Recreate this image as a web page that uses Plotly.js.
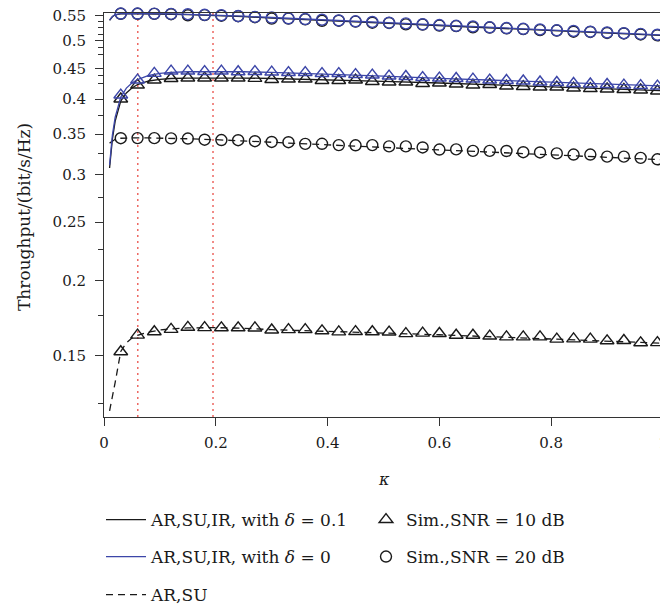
<!DOCTYPE html>
<html>
<head>
<meta charset="utf-8">
<script src="https://cdn.plot.ly/plotly-3.0.1.min.js"></script>
<style>
  html, body { margin: 0; padding: 0; overflow: hidden; background: #fff; }
  #chart { width: 700px; height: 610px; }
</style>
</head>
<body>
<div id="chart"></div>
<script>
// ---------- data ----------
// analytical curves (kappa grid)
const kappaLine = [0.01, 0.015, 0.02, 0.03, 0.04, 0.05, 0.06, 0.08, 0.1, 0.12, 0.15, 0.2, 0.25, 0.3, 0.4, 0.5, 0.6, 0.7, 0.8, 0.9, 1.0];

const irDelta01Snr20 = [0.5405, 0.5478, 0.5520, 0.5540, 0.5543, 0.5543, 0.5542, 0.5540, 0.5536, 0.5532, 0.5522, 0.5505, 0.5480, 0.5452, 0.5400, 0.5347, 0.5296, 0.5245, 0.5195, 0.5146, 0.5098];
const irDelta0Snr20  = [0.5411, 0.5484, 0.5526, 0.5545, 0.5548, 0.5548, 0.5548, 0.5546, 0.5542, 0.5539, 0.5530, 0.5515, 0.5490, 0.5463, 0.5411, 0.5359, 0.5308, 0.5258, 0.5208, 0.5158, 0.5110];
const irDelta01Snr10 = [0.3074, 0.3433, 0.3678, 0.3970, 0.4094, 0.4172, 0.4229, 0.4286, 0.4313, 0.4327, 0.4335, 0.4338, 0.4335, 0.4327, 0.4307, 0.4281, 0.4253, 0.4220, 0.4185, 0.4157, 0.4130];
const irDelta0Snr10  = [0.3109, 0.3486, 0.3734, 0.4031, 0.4172, 0.4253, 0.4310, 0.4377, 0.4413, 0.4430, 0.4440, 0.4444, 0.4440, 0.4430, 0.4402, 0.4368, 0.4330, 0.4297, 0.4264, 0.4233, 0.4204];
const arSuSnr20      = [0.3380, 0.3410, 0.3430, 0.3444, 0.3448, 0.3449, 0.3449, 0.3448, 0.3446, 0.3443, 0.3437, 0.3425, 0.3410, 0.3393, 0.3358, 0.3325, 0.3294, 0.3265, 0.3234, 0.3205, 0.3172];
const arSuSnr10      = [0.1215, 0.1280, 0.1355, 0.1525, 0.1575, 0.1605, 0.1622, 0.1642, 0.1655, 0.1662, 0.1668, 0.1670, 0.1666, 0.1657, 0.1647, 0.1636, 0.1625, 0.1612, 0.1598, 0.1588, 0.1573];

// simulation points
const kappaSim = [0.03, 0.06, 0.09, 0.12, 0.15, 0.18, 0.21, 0.24, 0.27, 0.30, 0.33, 0.36, 0.39, 0.42, 0.45, 0.48, 0.51, 0.54, 0.57, 0.60, 0.63, 0.66, 0.69, 0.72, 0.75, 0.78, 0.81, 0.84, 0.87, 0.90, 0.93, 0.96, 0.99];

const simDelta0Snr20  = [0.5547, 0.5547, 0.5545, 0.5539, 0.5532, 0.5520, 0.5511, 0.5494, 0.5477, 0.5463, 0.5447, 0.5432, 0.5417, 0.5402, 0.5385, 0.5371, 0.5355, 0.5341, 0.5324, 0.5308, 0.5293, 0.5279, 0.5263, 0.5248, 0.5233, 0.5219, 0.5203, 0.5189, 0.5174, 0.5160, 0.5145, 0.5131, 0.5116];
const simDelta01Snr20 = [0.5542, 0.5541, 0.5540, 0.5532, 0.5510, 0.5514, 0.5500, 0.5490, 0.5470, 0.5440, 0.5442, 0.5425, 0.5395, 0.5396, 0.5378, 0.5355, 0.5350, 0.5322, 0.5318, 0.5297, 0.5287, 0.5262, 0.5258, 0.5240, 0.5226, 0.5205, 0.5198, 0.5175, 0.5170, 0.5150, 0.5140, 0.5120, 0.5105];
const simDelta0Snr10  = [0.4062, 0.4302, 0.4413, 0.4452, 0.4452, 0.4444, 0.4452, 0.4440, 0.4444, 0.4435, 0.4427, 0.4427, 0.4410, 0.4410, 0.4393, 0.4385, 0.4368, 0.4360, 0.4343, 0.4335, 0.4327, 0.4318, 0.4302, 0.4294, 0.4286, 0.4270, 0.4262, 0.4245, 0.4237, 0.4229, 0.4220, 0.4212, 0.4204];
const simDelta01Snr10 = [0.4001, 0.4220, 0.4302, 0.4327, 0.4335, 0.4335, 0.4335, 0.4335, 0.4330, 0.4310, 0.4318, 0.4318, 0.4294, 0.4294, 0.4302, 0.4277, 0.4270, 0.4270, 0.4245, 0.4253, 0.4237, 0.4220, 0.4229, 0.4204, 0.4196, 0.4188, 0.4188, 0.4172, 0.4164, 0.4157, 0.4149, 0.4141, 0.4125];
const simArSuSnr20    = [0.3444, 0.3446, 0.3445, 0.3442, 0.3440, 0.3425, 0.3420, 0.3418, 0.3405, 0.3395, 0.3392, 0.3370, 0.3372, 0.3355, 0.3352, 0.3355, 0.3338, 0.3338, 0.3325, 0.3298, 0.3300, 0.3282, 0.3282, 0.3280, 0.3265, 0.3262, 0.3250, 0.3236, 0.3236, 0.3210, 0.3210, 0.3195, 0.3178];
const simArSuSnr10    = [0.1523, 0.1623, 0.1644, 0.1659, 0.1672, 0.1670, 0.1669, 0.1669, 0.1668, 0.1655, 0.1657, 0.1657, 0.1650, 0.1643, 0.1645, 0.1644, 0.1642, 0.1632, 0.1635, 0.1633, 0.1622, 0.1622, 0.1617, 0.1612, 0.1612, 0.1612, 0.1598, 0.1600, 0.1598, 0.1588, 0.1590, 0.1576, 0.1577];

// reference kappa values (red dotted lines)
const refKappa = [0.0605, 0.195];

// axis ticks and titles
const xTickVals = [0, 0.2, 0.4, 0.6, 0.8, 1];
const xTickText = ['0', '0.2', '0.4', '0.6', '0.8', '1'];
const yTickVals = [0.15, 0.2, 0.25, 0.3, 0.35, 0.4, 0.45, 0.5, 0.55];
const yTickText = ['0.15', '0.2', '0.25', '0.3', '0.35', '0.4', '0.45', '0.5', '0.55'];
const yMinorVals = [0.125, 0.175, 0.225, 0.275, 0.325, 0.375, 0.425, 0.4375, 0.475, 0.4875, 0.5125, 0.525, 0.5375];
const xTitle = '<i>κ</i>';
const yTitle = 'Throughput/(bit/s/Hz)';

// ---------- styling ----------
const BLACK = '#1a1a1a';
const BLUE = '#3c46a8';
const FONT = 'DejaVu Serif, Liberation Serif, serif';
const TRI = 12, CIRC = 11;

function lineTrace(y, color, dash, name, legend, show) {
  return { x: kappaLine, y: y, type: 'scatter', mode: 'lines', name: name,
    line: { color: color, width: 1.3, dash: dash }, legend: legend,
    showlegend: show, cliponaxis: false, hoverinfo: 'skip' };
}
function simTrace(y, color, symbol, size, name, legend, show) {
  return { x: kappaSim, y: y, type: 'scatter', mode: 'markers', name: name,
    marker: { symbol: symbol, size: size, color: color, line: { color: color, width: 1.4 } },
    legend: legend, showlegend: show, cliponaxis: false, hoverinfo: 'skip' };
}

const traces = [
  lineTrace(arSuSnr10, BLACK, '7px,5px', 'AR,SU', 'legend3', true),
  lineTrace(arSuSnr20, BLACK, '7px,5px', 'AR,SU', 'legend3', false),
  simTrace(simArSuSnr10, BLACK, 'triangle-up-open', TRI, 'Sim.,SNR = 10 dB', 'legend4', false),
  simTrace(simArSuSnr20, BLACK, 'circle-open', CIRC, 'Sim.,SNR = 20 dB', 'legend5', false),
  lineTrace(irDelta01Snr10, BLACK, 'solid', 'AR,SU,IR, with <i>δ</i> = 0.1', 'legend', true),
  lineTrace(irDelta01Snr20, BLACK, 'solid', 'AR,SU,IR, with <i>δ</i> = 0.1', 'legend', false),
  simTrace(simDelta01Snr10, BLACK, 'triangle-up-open', TRI, 'Sim.,SNR = 10 dB', 'legend4', true),
  simTrace(simDelta01Snr20, BLACK, 'circle-open', CIRC, 'Sim.,SNR = 20 dB', 'legend5', true),
  lineTrace(irDelta0Snr10, BLUE, 'solid', 'AR,SU,IR, with <i>δ</i> = 0', 'legend2', true),
  lineTrace(irDelta0Snr20, BLUE, 'solid', 'AR,SU,IR, with <i>δ</i> = 0', 'legend2', false),
  simTrace(simDelta0Snr10, BLUE, 'triangle-up-open', TRI, 'Sim.,SNR = 10 dB', 'legend4', false),
  simTrace(simDelta0Snr20, BLUE, 'circle-open', CIRC, 'Sim.,SNR = 20 dB', 'legend5', false)
];

const W = 700, H = 610;
const ML = 104, MR = 37, MT = 13, MB = 193;
const PW = W - ML - MR, PH = H - MT - MB;

function legendAt(px, py, itemwidth) {
  return { xref: 'container', yref: 'container', x: px / W, y: 1 - py / H,
    xanchor: 'left', yanchor: 'middle', bgcolor: 'rgba(0,0,0,0)', borderwidth: 0,
    itemwidth: itemwidth,
    font: { family: FONT, size: 17, color: BLACK }, tracegroupgap: 0 };
}

const shapes = refKappa.map(k => ({
  type: 'line', xref: 'x', yref: 'paper', x0: k, x1: k, y0: 0, y1: 1,
  line: { color: '#e8413a', width: 1.2, dash: '2px,4px' }, layer: 'below'
}));

const annotations = [
  { text: yTitle, xref: 'paper', yref: 'paper', x: (24 - ML) / PW, y: (MT + PH - 217) / PH,
    xanchor: 'center', yanchor: 'middle', textangle: -90, showarrow: false,
    font: { family: FONT, size: 17, color: BLACK } },
  { text: xTitle, xref: 'paper', yref: 'paper', x: 0.5, y: (MT + PH - 480) / PH,
    xanchor: 'center', yanchor: 'middle', showarrow: false,
    font: { family: FONT, size: 16, color: BLACK } }
];

const layout = {
  width: W, height: H,
  margin: { l: ML, r: MR, t: MT, b: MB, autoexpand: false },
  paper_bgcolor: '#fff', plot_bgcolor: '#fff',
  font: { family: FONT, color: BLACK, size: 15 },
  showlegend: true,
  xaxis: {
    range: [0, 1], showline: true, mirror: true, linecolor: '#333', linewidth: 1,
    ticks: 'outside', ticklen: 8, tickcolor: '#333', tickwidth: 1,
    tickvals: xTickVals, ticktext: xTickText, showgrid: false, zeroline: false,
    tickfont: { family: FONT, size: 15, color: BLACK }, automargin: false,
    ticklabelstandoff: 4
  },
  yaxis: {
    type: 'log', range: [Math.log10(0.11868), Math.log10(0.5558)],
    showline: true, mirror: true, linecolor: '#333', linewidth: 1,
    ticks: 'outside', ticklen: 8, tickcolor: '#333', tickwidth: 1,
    tickvals: yTickVals, ticktext: yTickText, showgrid: false, zeroline: false,
    tickfont: { family: FONT, size: 15, color: BLACK }, automargin: false,
    ticklabelstandoff: 6,
    minor: { tickmode: 'array', tickvals: yMinorVals, ticks: 'outside', ticklen: 5, tickcolor: '#333', showgrid: false }
  },
  legend:  legendAt(101, 520, 40),
  legend2: legendAt(101, 557, 40),
  legend3: legendAt(101, 595, 40),
  legend4: legendAt(366, 520, 30),
  legend5: legendAt(366, 557, 30),
  shapes: shapes,
  annotations: annotations
};

Plotly.newPlot('chart', traces, layout, { staticPlot: true, displayModeBar: false });
</script>
</body>
</html>
